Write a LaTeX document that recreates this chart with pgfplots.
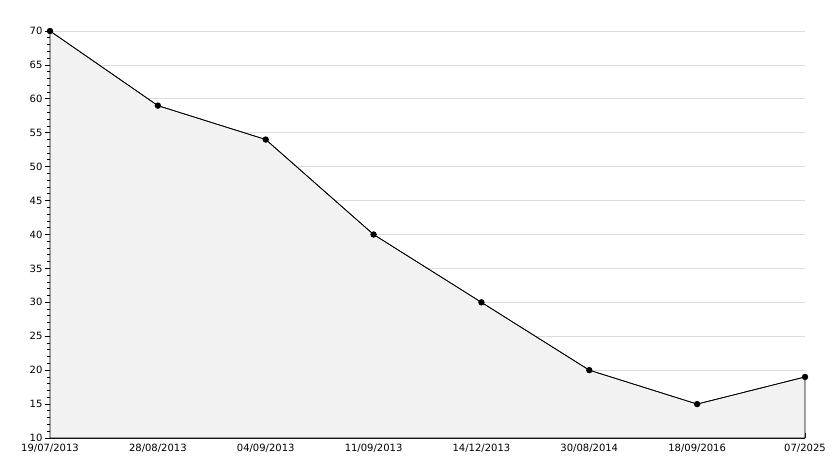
\documentclass[border=0pt]{standalone}
\usepackage{fontspec}
\setmainfont{DejaVu Sans}
\usepackage{pgfplots}
\pgfplotsset{compat=1.18}
\pgfplotsset{layers/mylayers/.define layer set={axis background,axis grid,main,axis ticks,axis lines,axis tick labels,axis descriptions,axis foreground}{}}
\definecolor{fillg}{HTML}{F2F2F2}
\definecolor{gridg}{HTML}{DCDCDC}
\begin{document}
\begin{tikzpicture}
\begin{axis}[
  at={(0pt,0pt)}, anchor=south west,
  scale only axis, width=755pt, height=407pt,
  set layers=mylayers,
  xmin=0, xmax=7, ymin=10, ymax=70,
  axis x line*=bottom, axis y line*=left,
  axis line style={black, line width=0.9pt, -},
  xtick={0,...,7},
  xticklabels={19/07/2013,28/08/2013,04/09/2013,11/09/2013,14/12/2013,30/08/2014,18/09/2016,07/2025},
  ytick={10,15,...,70},
  minor ytick={10,...,70},
  tick align=outside,
  major tick length=5pt, minor tick length=3pt,
  tick style={black, line width=0.8pt},
  xtick style={yshift=5pt},
  ymajorgrids,
  grid style={gridg, line width=0.8pt},
  ticklabel style={font=\fontsize{10}{12}\selectfont},
  /pgf/number format/assume math mode=true,
  xticklabel style={yshift=2pt},
  yticklabel style={xshift=1pt},
  clip=false,
]
\addplot[fill=fillg, draw=black, line width=0.7pt] coordinates {
  (0,70) (1,59) (2,54) (3,40) (4,30) (5,20) (6,15) (7,19)
} \closedcycle;
\addplot[black, line width=0.7pt, mark=*, mark size=2.8pt] coordinates {
  (0,70) (1,59) (2,54) (3,40) (4,30) (5,20) (6,15) (7,19)
};
\end{axis}
\pgfresetboundingbox
\useasboundingbox (-50pt,-30pt) rectangle (784pt,438pt);
\end{tikzpicture}
\end{document}
